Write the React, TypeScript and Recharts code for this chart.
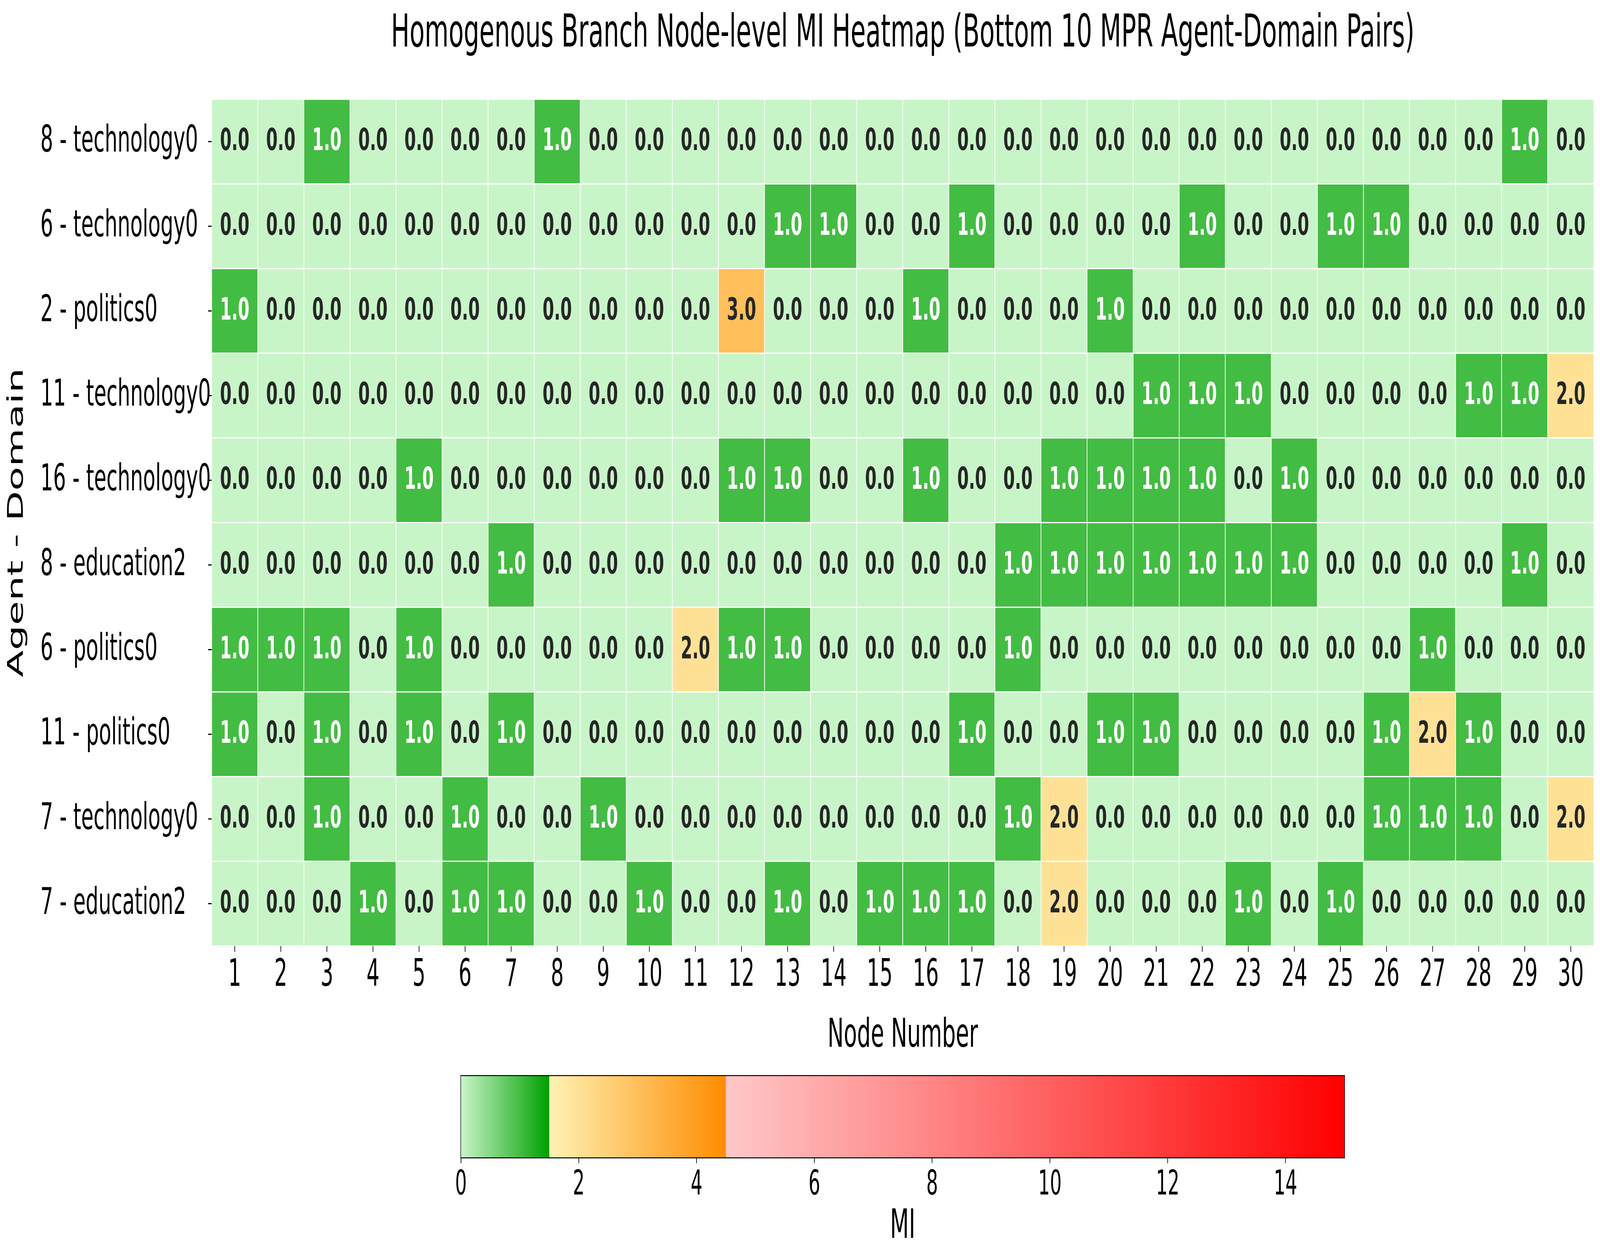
import React from 'react'
import {
  ScatterChart,
  Scatter,
  XAxis,
  YAxis,
  ComposedChart,
  Bar,
  ReferenceArea
} from 'recharts'

const agentDomains = [
  '8 - technology0',
  '6 - technology0',
  '2 - politics0',
  '11 - technology0',
  '16 - technology0',
  '8 - education2',
  '6 - politics0',
  '11 - politics0',
  '7 - technology0',
  '7 - education2'
]

const nodeNumbers = Array.from({ length: 30 }, (_, i) => i + 1)

const miRow1 = [0, 0, 1, 0, 0, 0, 0, 1, 0, 0, 0, 0, 0, 0, 0, 0, 0, 0, 0, 0, 0, 0, 0, 0, 0, 0, 0, 0, 1, 0]
const miRow2 = [0, 0, 0, 0, 0, 0, 0, 0, 0, 0, 0, 0, 1, 1, 0, 0, 1, 0, 0, 0, 0, 1, 0, 0, 1, 1, 0, 0, 0, 0]
const miRow3 = [1, 0, 0, 0, 0, 0, 0, 0, 0, 0, 0, 3, 0, 0, 0, 1, 0, 0, 0, 1, 0, 0, 0, 0, 0, 0, 0, 0, 0, 0]
const miRow4 = [0, 0, 0, 0, 0, 0, 0, 0, 0, 0, 0, 0, 0, 0, 0, 0, 0, 0, 0, 0, 1, 1, 1, 0, 0, 0, 0, 1, 1, 2]
const miRow5 = [0, 0, 0, 0, 1, 0, 0, 0, 0, 0, 0, 1, 1, 0, 0, 1, 0, 0, 1, 1, 1, 1, 0, 1, 0, 0, 0, 0, 0, 0]
const miRow6 = [0, 0, 0, 0, 0, 0, 1, 0, 0, 0, 0, 0, 0, 0, 0, 0, 0, 1, 1, 1, 1, 1, 1, 1, 0, 0, 0, 0, 1, 0]
const miRow7 = [1, 1, 1, 0, 1, 0, 0, 0, 0, 0, 2, 1, 1, 0, 0, 0, 0, 1, 0, 0, 0, 0, 0, 0, 0, 0, 1, 0, 0, 0]
const miRow8 = [1, 0, 1, 0, 1, 0, 1, 0, 0, 0, 0, 0, 0, 0, 0, 0, 1, 0, 0, 1, 1, 0, 0, 0, 0, 1, 2, 1, 0, 0]
const miRow9 = [0, 0, 1, 0, 0, 1, 0, 0, 1, 0, 0, 0, 0, 0, 0, 0, 0, 1, 2, 0, 0, 0, 0, 0, 0, 1, 1, 1, 0, 2]
const miRow10 = [0, 0, 0, 1, 0, 1, 1, 0, 0, 1, 0, 0, 1, 0, 1, 1, 1, 0, 2, 0, 0, 0, 1, 0, 1, 0, 0, 0, 0, 0]

const miRows = [miRow1, miRow2, miRow3, miRow4, miRow5, miRow6, miRow7, miRow8, miRow9, miRow10]

// colorbar: segment breaks and ticks
const cbBreaks = [0, 1.5, 4.5, 15]
const cbTicks = [0, 2, 4, 6, 8, 10, 12, 14]

// piecewise colormap (green / yellow-orange / pink-red)
const segments = [
  { from: cbBreaks[0], to: cbBreaks[1], c0: [200, 245, 200], c1: [0, 160, 0] },
  { from: cbBreaks[1], to: cbBreaks[2], c0: [255, 242, 180], c1: [255, 140, 0] },
  { from: cbBreaks[2], to: cbBreaks[3], c0: [255, 200, 200], c1: [255, 0, 0] }
]
const rgb = (c: number[]) => `rgb(${c.map((v) => Math.round(v)).join(',')})`
const colorFor = (v: number) => {
  const s = segments.find((g) => v >= g.from && v < g.to) || segments[segments.length - 1]
  const t = Math.min(1, (v - s.from) / (s.to - s.from))
  return rgb(s.c0.map((a, i) => a + (s.c1[i] - a) * t))
}

const cells = miRows.flatMap((row, r) => row.map((v, c) => ({ node: nodeNumbers[c], row: r, v })))
const cbData = [
  { name: 'MI', s0: cbBreaks[1] - cbBreaks[0], s1: cbBreaks[2] - cbBreaks[1], s2: cbBreaks[3] - cbBreaks[2] }
]

const FONT = 'DejaVu Sans, Verdana, sans-serif'
const W = 7535
const H = 3217
const PLOT_L = 997
const PLOT_R = 7506
const PLOT_T = 254
const PLOT_B = 2421
const MAIN_H = 2700
const CELL_W = (PLOT_R - PLOT_L) / nodeNumbers.length
const CELL_H = (PLOT_B - PLOT_T) / agentDomains.length

const CellShape = (props: any) => {
  const { cx, cy, payload } = props
  if (cx == null || cy == null) return null
  const v = payload.v
  return (
    <g>
      <rect
        x={cx - CELL_W / 2}
        y={cy - CELL_H / 2}
        width={CELL_W}
        height={CELL_H}
        fill={colorFor(v)}
        stroke="#ffffff"
        strokeWidth={3}
      />
      <text
        x={cx}
        y={cy + 22}
        textAnchor="middle"
        fontFamily={FONT}
        fontWeight="bold"
        fontSize={78}
        fill={v === 1 ? '#ffffff' : '#262626'}
      >
        {v.toFixed(1)}
      </text>
    </g>
  )
}

const YTick = (props: any) => {
  const { y, payload } = props
  return (
    <text x={190} y={y + 26} textAnchor="start" fontFamily={FONT} fontSize={95} fill="#000">
      {agentDomains[payload.value]}
    </text>
  )
}

const App: React.FC = () => {
  const cx = (PLOT_L + PLOT_R) / 2
  const vw = typeof window !== 'undefined' ? window.innerWidth : W
  const vh = typeof window !== 'undefined' ? window.innerHeight : H
  // stretch the fixed-size figure so it fills the browser window exactly
  const sx = vw / W
  const sy = vh / H
  return (
    <div style={{ width: W * sx, height: H * sy, overflow: 'hidden', position: 'relative' }}>
      <style>{'body{margin:0}'}</style>
      <div
        style={{
          position: 'absolute',
          left: 0,
          top: 0,
          width: W,
          height: H,
          background: '#fff',
          fontFamily: FONT,
          transform: `scale(${sx}, ${sy})`,
          transformOrigin: '0 0'
        }}
      >
        <div style={{ position: 'absolute', left: 0, top: 0 }}>
          <ScatterChart
            width={W}
            height={MAIN_H}
            margin={{ top: PLOT_T, right: W - PLOT_R, left: 190, bottom: 0 }}
          >
            <XAxis
              type="number"
              dataKey="node"
              domain={[0.5, 30.5]}
              ticks={nodeNumbers}
              interval={0}
              height={MAIN_H - PLOT_B}
              axisLine={false}
              tickLine={{ stroke: '#000', strokeWidth: 3 }}
              tickSize={15}
              tickMargin={19}
              tick={{ fontSize: 96, fill: '#000', fontFamily: FONT }}
              allowDataOverflow
            />
            <YAxis
              type="number"
              dataKey="row"
              domain={[-0.5, 9.5]}
              ticks={agentDomains.map((_, i) => i)}
              interval={0}
              reversed
              width={PLOT_L - 190}
              axisLine={false}
              tickLine={{ stroke: '#000', strokeWidth: 3 }}
              tickSize={17}
              tick={<YTick />}
              allowDataOverflow
            />
            <Scatter data={cells} shape={<CellShape />} isAnimationActive={false} />
          </ScatterChart>
        </div>

        <div style={{ position: 'absolute', left: 0, top: 2700 }}>
          <ComposedChart
            width={W}
            height={517}
            layout="vertical"
            data={cbData}
            barCategoryGap={0}
            margin={{ top: 54, right: W - 6331, left: 2171, bottom: 135 }}
          >
            <defs>
              <linearGradient id="cbGreen" x1="0" y1="0" x2="1" y2="0">
                <stop offset="0%" stopColor={rgb(segments[0].c0)} />
                <stop offset="100%" stopColor={rgb(segments[0].c1)} />
              </linearGradient>
              <linearGradient id="cbOrange" x1="0" y1="0" x2="1" y2="0">
                <stop offset="0%" stopColor={rgb(segments[1].c0)} />
                <stop offset="100%" stopColor={rgb(segments[1].c1)} />
              </linearGradient>
              <linearGradient id="cbRed" x1="0" y1="0" x2="1" y2="0">
                <stop offset="0%" stopColor={rgb(segments[2].c0)} />
                <stop offset="100%" stopColor={rgb(segments[2].c1)} />
              </linearGradient>
            </defs>
            <XAxis
              type="number"
              domain={[cbBreaks[0], cbBreaks[3]]}
              ticks={cbTicks}
              interval={0}
              height={120}
              axisLine={false}
              tickLine={{ stroke: '#000', strokeWidth: 3 }}
              tickSize={15}
              tickMargin={18}
              tick={{ fontSize: 87, fill: '#000', fontFamily: FONT }}
            />
            <YAxis type="category" dataKey="name" hide width={0} />
            <Bar dataKey="s0" stackId="cb" fill="url(#cbGreen)" isAnimationActive={false} />
            <Bar dataKey="s1" stackId="cb" fill="url(#cbOrange)" isAnimationActive={false} />
            <Bar dataKey="s2" stackId="cb" fill="url(#cbRed)" isAnimationActive={false} />
            <ReferenceArea
              x1={cbBreaks[0]}
              x2={cbBreaks[3]}
              fill="none"
              fillOpacity={0}
              stroke="#000"
              strokeOpacity={1}
              strokeWidth={5}
            />
          </ComposedChart>
        </div>

        <svg
          width={W}
          height={H}
          style={{ position: 'absolute', left: 0, top: 0, pointerEvents: 'none' }}
          fontFamily={FONT}
        >
          <text x={cx} y={119} textAnchor="middle" fontSize={116} fill="#000">
            Homogenous Branch Node-level MI Heatmap (Bottom 10 MPR Agent-Domain Pairs)
          </text>
          <text x={cx} y={2679} textAnchor="middle" fontSize={102} fill="#000">
            Node Number
          </text>
          <text
            x={106}
            y={(PLOT_T + PLOT_B) / 2}
            textAnchor="middle"
            fontSize={101}
            fill="#000"
            transform={`rotate(-90, 106, ${(PLOT_T + PLOT_B) / 2})`}
          >
            Agent - Domain
          </text>
          <text x={4251} y={3168} textAnchor="middle" fontSize={103} fill="#000">
            MI
          </text>
        </svg>
      </div>
    </div>
  )
}

export default App
